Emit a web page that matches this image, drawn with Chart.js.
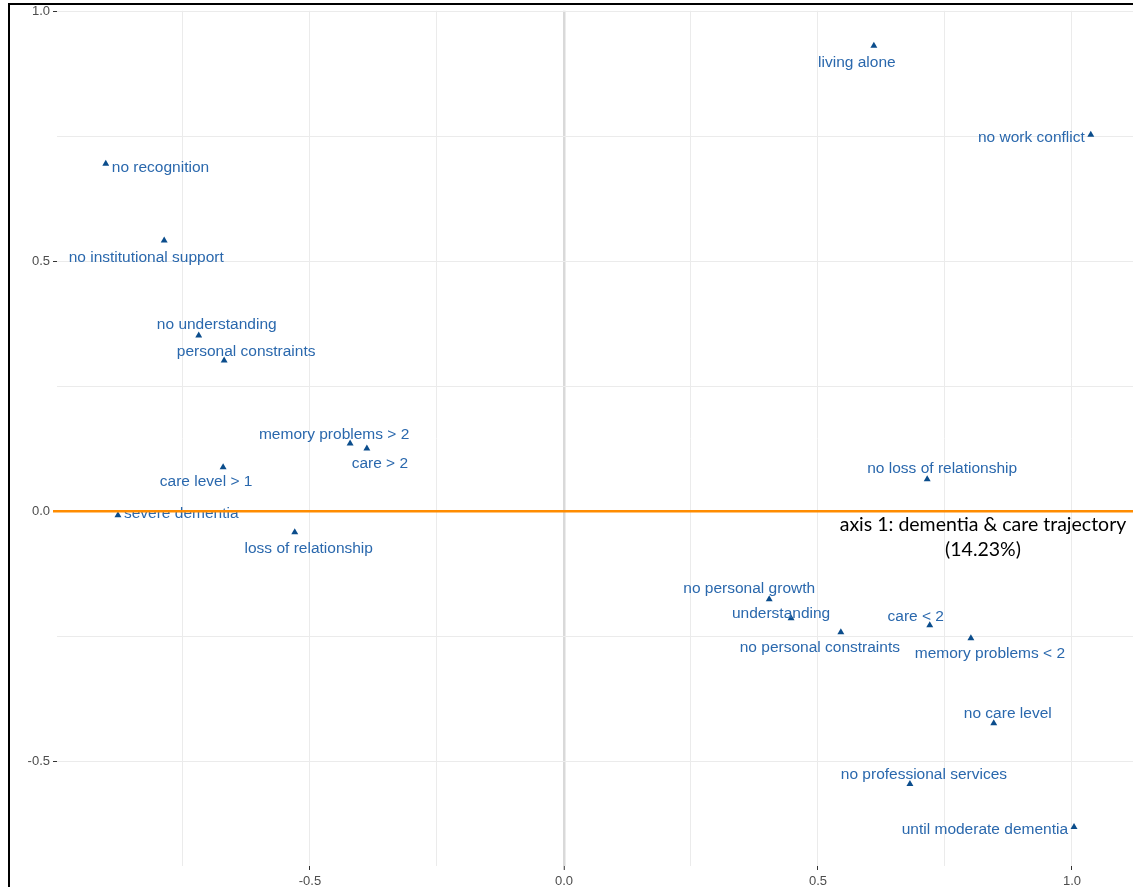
<!DOCTYPE html>
<html>
<head>
<meta charset="utf-8">
<script src="https://cdn.jsdelivr.net/npm/chart.js@4.4.1/dist/chart.umd.min.js"></script>
<style>
  html, body { margin: 0; padding: 0; background: #ffffff; }
  #wrap { position: relative; width: 1133px; height: 887px; overflow: hidden; }
  canvas { display: block; }
</style>
</head>
<body>
<div id="wrap"><canvas id="mca" width="1137" height="887"></canvas></div>
<script>
// Category coordinates on the first two MCA dimensions
const categories = [
  "living alone", "no work conflict", "no recognition", "no institutional support",
  "no understanding", "personal constraints", "memory problems > 2", "care > 2",
  "care level > 1", "severe dementia", "loss of relationship", "no loss of relationship",
  "no personal growth", "understanding", "no personal constraints", "care < 2",
  "memory problems < 2", "no care level", "no professional services", "until moderate dementia"
];
const dim1 = [
  0.610, 1.037, -0.902, -0.787,
  -0.719, -0.669, -0.421, -0.388,
  -0.671, -0.878, -0.530, 0.715,
  0.404, 0.447, 0.545, 0.720,
  0.801, 0.846, 0.681, 1.004
];
const dim2 = [
  0.932, 0.754, 0.696, 0.542,
  0.352, 0.302, 0.136, 0.126,
  0.088, -0.008, -0.042, 0.064,
  -0.176, -0.214, -0.242, -0.228,
  -0.254, -0.424, -0.546, -0.632
];
const majorTicks = [-0.5, 0.0, 0.5, 1.0];
const minorTicks = [-0.75, -0.25, 0.25, 0.75];
const axisNote = ["axis 1: dementia & care trajectory", "(14.23%)"];

// Label nudges (pixels from the marker) so the texts do not collide
const labelNudge = [
  { dx: -17, dy: 17, align: "center" },
  { dx: -6, dy: 3, align: "right" },
  { dx: 6, dy: 4, align: "left" },
  { dx: -18, dy: 17, align: "center" },
  { dx: 18, dy: -11, align: "center" },
  { dx: 22, dy: -9, align: "center" },
  { dx: -16, dy: -9, align: "center" },
  { dx: 13, dy: 15, align: "center" },
  { dx: -17, dy: 14, align: "center" },
  { dx: 6, dy: -2, align: "left" },
  { dx: 14, dy: 16, align: "center" },
  { dx: 15, dy: -11, align: "center" },
  { dx: -20, dy: -11, align: "center" },
  { dx: -10, dy: -5, align: "center" },
  { dx: -21, dy: 16, align: "center" },
  { dx: -14, dy: -9, align: "center" },
  { dx: 19, dy: 16, align: "center" },
  { dx: 14, dy: -9, align: "center" },
  { dx: 14, dy: -9, align: "center" },
  { dx: -6, dy: 3, align: "right" }
];

const points = dim1.map((x, i) => ({ x: x, y: dim2[i] }));
const allTicks = majorTicks.concat(minorTicks).sort((a, b) => a - b);
const isMajor = v => majorTicks.some(m => Math.abs(m - v) < 1e-9);
const ticksInRange = scale =>
  allTicks.filter(v => v >= scale.min && v <= scale.max).map(v => ({ value: v }));

const GRID = "#ebebeb";
const TICK_TEXT = "#4d4d4d";
const LABEL_BLUE = "#2a68ad";
const POINT_BLUE = "#0b4d8c";

const whiteBackground = {
  id: "whiteBackground",
  beforeDraw(chart) {
    const c = chart.ctx;
    c.save();
    c.fillStyle = "#ffffff";
    c.fillRect(0, 0, chart.width, chart.height);
    c.restore();
  }
};

const pointLabels = {
  id: "pointLabels",
  afterDatasetsDraw(chart) {
    const c = chart.ctx;
    const meta = chart.getDatasetMeta(0);
    c.save();
    c.font = "15.5px 'Liberation Sans', Arial, sans-serif";
    c.fillStyle = LABEL_BLUE;
    c.textBaseline = "middle";
    meta.data.forEach((el, i) => {
      const n = labelNudge[i];
      c.textAlign = n.align;
      c.fillText(categories[i], el.x + n.dx, el.y + n.dy);
    });

    // horizontal reference line at dimension 2 = 0
    const ys = chart.scales.y;
    const y0 = ys.getPixelForValue(0);
    const area = chart.chartArea;
    c.strokeStyle = "#ff8c00";
    c.lineWidth = 2.5;
    c.beginPath();
    c.moveTo(area.left - 4, y0);
    c.lineTo(area.right, y0);
    c.stroke();

    // axis caption below the line
    c.fillStyle = "#000000";
    c.font = "19.5px Lato, 'Open Sans', sans-serif";
    c.textAlign = "center";
    c.textBaseline = "middle";
    c.fillText(axisNote[0], 983, y0 + 13);
    c.fillText(axisNote[1], 983, y0 + 38);
    c.restore();
  }
};

const frame = {
  id: "frame",
  afterDraw(chart) {
    const c = chart.ctx;
    c.save();
    c.fillStyle = "#000000";
    c.fillRect(8, 3, chart.width - 8, 2);
    c.fillRect(8, 3, 2, chart.height - 3);
    c.restore();
  }
};

const tickFont = { family: "'Liberation Sans', Arial, sans-serif", size: 13 };

new Chart(document.getElementById("mca"), {
  type: "scatter",
  data: {
    datasets: [{
      data: points,
      pointStyle: "triangle",
      pointRadius: 4,
      pointHoverRadius: 4,
      backgroundColor: POINT_BLUE,
      borderColor: POINT_BLUE,
      borderWidth: 0
    }]
  },
  plugins: [whiteBackground, pointLabels, frame],
  options: {
    responsive: false,
    animation: false,
    devicePixelRatio: 1,
    layout: { padding: { top: 7, left: 0, right: 0, bottom: 0 } },
    plugins: { legend: { display: false }, tooltip: { enabled: false } },
    scales: {
      x: {
        type: "linear",
        min: -0.998,
        max: 1.1201,
        afterBuildTicks(scale) { scale.ticks = ticksInRange(scale); },
        afterFit(scale) { scale.height = 21; },
        border: { display: false },
        grid: {
          color: ctx => (ctx.tick && Math.abs(ctx.tick.value) < 1e-9) ? "#d9d9d9" : GRID,
          lineWidth: ctx => (ctx.tick && Math.abs(ctx.tick.value) < 1e-9) ? 2.5 : 1,
          tickColor: ctx => (ctx.tick && isMajor(ctx.tick.value)) ? "#333333" : "rgba(0,0,0,0)",
          tickLength: 4,
          tickWidth: 1
        },
        ticks: {
          autoSkip: false,
          maxRotation: 0,
          padding: 4,
          color: TICK_TEXT,
          font: tickFont,
          callback: v => isMajor(v) ? Number(v).toFixed(1) : ""
        }
      },
      y: {
        type: "linear",
        min: -0.71,
        max: 1.002,
        afterBuildTicks(scale) { scale.ticks = ticksInRange(scale); },
        afterFit(scale) { scale.width = 57; },
        border: { display: false },
        grid: {
          color: ctx => (ctx.tick && Math.abs(ctx.tick.value) < 1e-9) ? "rgba(0,0,0,0)" : GRID,
          lineWidth: 1,
          tickColor: ctx => (ctx.tick && isMajor(ctx.tick.value)) ? "#333333" : "rgba(0,0,0,0)",
          tickLength: 4,
          tickWidth: 1
        },
        ticks: {
          autoSkip: false,
          padding: 3,
          color: TICK_TEXT,
          font: tickFont,
          callback: v => isMajor(v) ? Number(v).toFixed(1) : ""
        }
      }
    }
  }
});
</script>
</body>
</html>
